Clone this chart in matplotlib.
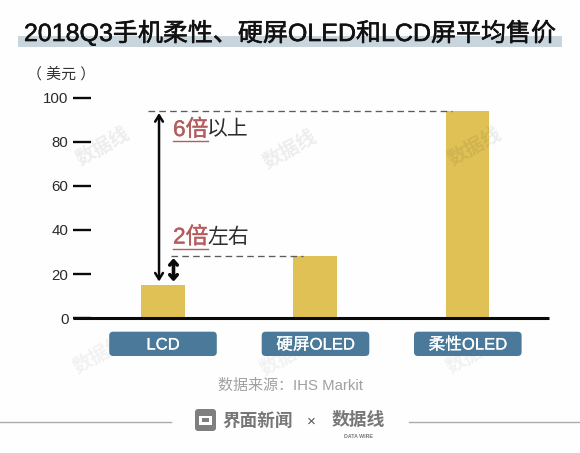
import matplotlib
matplotlib.use("Agg")
import matplotlib.pyplot as plt
import matplotlib.patheffects as pe
from matplotlib.patches import FancyBboxPatch, Rectangle

FONT = ['Liberation Sans', 'Noto Sans CJK SC']
plt.rcParams['font.family'] = FONT

title = '2018Q3手机柔性、硬屏OLED和LCD屏平均售价'
categories = ['LCD', '硬屏OLED', '柔性OLED']
values = [15, 28.4, 94]
yticks = [0, 20, 40, 60, 80, 100]
unit = '（ 美元 ）'
source = '数据来源：IHS Markit'

W, H = 580, 453
fig = plt.figure(figsize=(W/100, H/100), dpi=100, facecolor='#fefefe')

def heavy(w, c):
    return [pe.withStroke(linewidth=w, foreground=c)]

# pixel overlay for layout pieces
bg = fig.add_axes([0, 0, 1, 1])
bg.set_xlim(0, W); bg.set_ylim(H, 0); bg.axis('off')
bg.add_patch(Rectangle((18, 36), 544, 10.7, fc='#c9d5dd', ec='none'))
bg.text(290, 33, title, ha='center', va='center', fontsize=18.0, color='#111111',
        path_effects=heavy(0.4, '#111111'))

# main chart
L, R, Y0, Y100 = 73.3, 548.7, 318.2, 97.6
ax = fig.add_axes([L/W, 1-Y0/H, (R-L)/W, (Y0-Y100)/H])
ax.patch.set_alpha(0)
x = list(range(len(values)))
ax.bar(x, values, width=0.287, color='#dfc155', zorder=2)
ax.set_xlim(-0.589, 2.533); ax.set_ylim(0, 100)
for s in ['top', 'right', 'left']:
    ax.spines[s].set_visible(False)
ax.spines['bottom'].set_linewidth(2.2); ax.spines['bottom'].set_color('#0a0a0a')
ax.spines['bottom'].set_zorder(4); ax.spines['bottom'].set_capstyle('butt')
ax.set_xticks([])
ax.set_yticks(yticks)
ax.tick_params(axis='y', direction='in', length=12.8, width=1.7, color='#0a0a0a', pad=3.5,
               labelsize=10.8, labelcolor='#2a2a2a')

dash = dict(color='#5c5c5c', lw=0.95, ls=(0, (5, 3.2)), zorder=3)
ax.plot([-0.098, 1.90], [values[2], values[2]], **dash)
ax.plot([0.053, 0.92], [values[1], values[1]], **dash)
ax.annotate('', xy=(-0.026, 93), xytext=(-0.026, 16.6),
            arrowprops=dict(arrowstyle='<->,head_length=0.45,head_width=0.28', lw=1.8, color='#0a0a0a', shrinkA=0, shrinkB=0))
ax.annotate('', xy=(0.069, 27.2), xytext=(0.069, 16.6),
            arrowprops=dict(arrowstyle='<->,head_length=0.3,head_width=0.27', lw=2.6, color='#0a0a0a', shrinkA=0, shrinkB=0))

# overlay on top
top = fig.add_axes([0, 0, 1, 1])
top.set_xlim(0, W); top.set_ylim(H, 0); top.axis('off'); top.patch.set_alpha(0)

top.text(61, 74, unit, ha='center', va='center', fontsize=10.8, color='#333333')

RED, INK = '#b55c5e', '#2c2c2c'
for y, a, b in [(129.5, '6倍', '以上'), (237, '2倍', '左右')]:
    top.text(173, y, a, ha='left', va='center', fontsize=16.3, color=RED, path_effects=heavy(0.3, RED))
    top.text(207, y, b, ha='left', va='center', fontsize=15, color=INK)
    top.plot([173, 208], [y+11.5, y+11.5], color=RED, lw=1)

# watermarks behind the label buttons
for wx, wy in [(100, 355), (287, 357), (473, 355)]:
    top.text(wx, wy, '数据线', ha='center', va='center', fontsize=14, color='#000000', alpha=0.05,
             rotation=30, weight='bold', zorder=1)

for cx, lab in zip([163, 315.5, 467.8], categories):
    top.add_patch(FancyBboxPatch((cx-50.8, 334.7), 101.6, 18.3, boxstyle='round,pad=3,rounding_size=4',
                                 fc='#4a7999', ec='none', zorder=2))
    top.text(cx, 345, lab, ha='center', va='center', fontsize=12, color='white', zorder=3,
             path_effects=heavy(0.15, 'white'))

top.text(290, 385.5, source, ha='center', va='center', fontsize=10.8, color='#a0a0a0')

# footer
top.plot([0, 171], [421.7, 421.7], color='#ababab', lw=1)
top.plot([409, 580], [421.7, 421.7], color='#ababab', lw=1)
top.add_patch(FancyBboxPatch((197, 411), 17, 18, boxstyle='round,pad=2,rounding_size=3', fc='#7f7f7f', ec='none'))
top.add_patch(Rectangle((199, 415.5), 13, 9, fc='white', ec='none'))
top.add_patch(Rectangle((202, 418), 7, 4, fc='#7f7f7f', ec='none'))
top.text(222.5, 422, '界面新闻', ha='left', va='center', fontsize=12.7, color='#777777', weight='bold')
top.text(311.7, 421.5, '×', ha='center', va='center', fontsize=11, color='#555555')
top.text(358.5, 420.5, '数据线', ha='center', va='center', fontsize=12.8, color='#777777', weight='bold')
top.text(358.5, 436.5, 'DATA WIRE', ha='center', va='center', fontsize=3.8, color='#777777', weight='bold')

for wx, wy in [(103, 147), (290, 150), (475, 147)]:
    top.text(wx, wy, '数据线', ha='center', va='center', fontsize=14, color='#000000', alpha=0.07,
             rotation=30, weight='bold')

fig.savefig('out.png', dpi=100, facecolor=fig.get_facecolor())
